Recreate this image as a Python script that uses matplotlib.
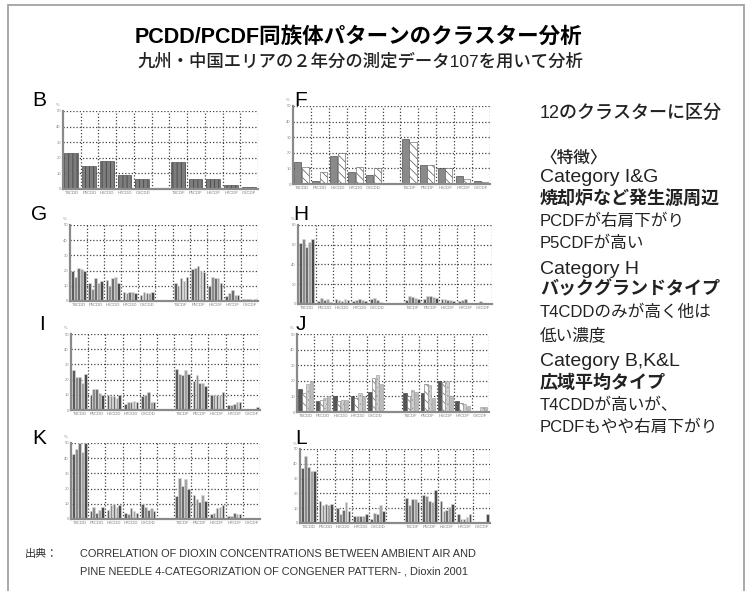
import matplotlib.pyplot as plt
import numpy as np
from matplotlib.patches import Rectangle

plt.rcParams['font.family'] = ['Liberation Sans', 'Noto Sans CJK JP', 'DejaVu Sans']
plt.rcParams['hatch.linewidth'] = 0.5

W, H = 750, 591

# gruppi di congeneri (slot 5 lasciato vuoto tra PCDD e PCDF)
congeneri = ["T4CDD", "P5CDD", "H6CDD", "H7CDD", "O8CDD",
             "T4CDF", "P5CDF", "H6CDF", "H7CDF", "O8CDF"]
slot = [0, 1, 2, 3, 4, 6, 7, 8, 9, 10]

# valori letti a occhio dal grafico (%), una lista per gruppo
B_vals = [[23], [15], [18], [9], [6.5], [17], [6.5], [6.5], [2.5], [1]]
F_vals = [[14, 11], [1.7, 7.5], [18, 20], [7.5, 11], [5.5, 10],
          [29, 27], [12.5, 12.5], [10, 10.5], [5, 3], [1.7, 1.2]]
G_vals = [[20, 16, 22, 21, 20], [12, 8, 15, 12, 13], [14, 10, 15, 16, 12],
          [6, 5, 6, 6, 5], [4, 6, 5, 5, 6], [12, 10, 15, 13, 16],
          [21, 22, 23, 20, 19], [10, 16, 15, 15, 12], [3, 5, 7, 4, 4],
          [1, 1, 1.5, 0.5, 1]]
H_vals = [[62, 66, 58, 63, 66], [3, 6, 4, 5, 2], [5, 4, 3, 5, 4],
          [3, 4, 5, 4, 3], [5, 6, 4, 2, 1], [4, 8, 7, 6, 5],
          [5, 8, 8, 7, 6], [5, 5, 4, 4, 3], [3, 4, 5, 1, 1],
          [0.5, 3, 0.5, 0.5, 0.5]]
I_vals = [[26, 22, 22, 17.5, 24], [10, 14, 14, 11, 10], [10, 9, 9, 8, 10],
          [4, 5, 5, 6, 5], [9, 10, 12, 5, 5], [27, 24, 23, 26, 24],
          [19, 23, 18, 18, 16], [10, 10, 10, 10, 12], [3, 3, 4, 5, 5],
          [0.5, 0.5, 0.5, 0.5, 2]]
J_vals = [[15, 12, 18, 20], [7, 8, 9, 10], [10, 7, 8, 8], [10, 9, 12, 10],
          [13, 22, 24, 18], [12, 10, 14, 13], [12, 18, 17, 9],
          [20, 19, 20, 10], [7, 6, 5, 4], [0, 0, 3.5, 3]]
K_vals = [[43, 46, 50, 44, 50], [5, 8, 4, 6, 8], [6, 9, 10, 8, 9],
          [4, 3, 7, 5, 4], [10, 8, 6, 7, 5], [15, 27, 22, 26, 20],
          [16, 13, 11, 16, 12], [3, 4, 7, 8, 9], [2, 2, 4, 3, 3],
          [0.3, 0.3, 0.3, 0.3, 0.3]]
L_vals = [[37, 45, 38, 35, 35], [15, 12, 13, 12, 13], [10, 6, 9, 14, 8],
          [5, 5, 5, 5, 6], [3, 7, 6, 12, 8], [17, 12, 16, 16, 14],
          [19, 18, 15, 14, 22], [15, 8, 9, 11, 13], [6, 3, 3, 4, 6],
          [1, 1, 1, 0.5, 6]]

# posizione dei pannelli in pixel: (sinistra, alto, destra, basso)
pannelli = {
    "B": (B_vals, 50, 10, (63, 111, 258, 189), "pieno"),
    "F": (F_vals, 50, 10, (293, 106, 490, 184), "F"),
    "G": (G_vals, 50, 10, (70, 225, 258, 301), "misto"),
    "H": (H_vals, 80, 20, (298, 225, 492, 304), "misto"),
    "I": (I_vals, 50, 10, (71, 334, 260, 410), "misto"),
    "J": (J_vals, 50, 10, (297, 334, 489, 412), "J"),
    "K": (K_vals, 50, 10, (71, 443, 260, 519), "misto"),
    "L": (L_vals, 50, 10, (300, 449, 490, 523), "misto"),
}
lettere = {"B": (39, 100), "F": (301, 100), "G": (39, 214), "H": (301, 214),
           "I": (42, 325), "J": (301, 325), "K": (39, 438), "L": (301, 438)}

grigi = ['#5a5a5a', '#8c8c8c', '#6e6e6e', '#a3a3a3', '#4a4a4a']


def stile(tipo, j):
    if tipo == "pieno":
        return dict(color='#7d7d7d', edgecolor='#3a3a3a', hatch='||||')
    if tipo == "F":
        if j % 2 == 0:
            return dict(color='#8a8a8a', edgecolor='#333333')
        return dict(color='white', edgecolor='#555555', hatch='\\\\\\\\')
    if tipo == "J":
        s = [dict(color='#555555', edgecolor='#333333'),
             dict(color='white', edgecolor='#666666', hatch='\\\\\\\\'),
             dict(color='#d0d0d0', edgecolor='#999999', hatch='....'),
             dict(color='#bbbbbb', edgecolor='#999999')]
        return s[j % 4]
    return dict(color=grigi[j % len(grigi)], edgecolor='#dddddd')


fig = plt.figure(figsize=(W / 100, H / 100), dpi=100)

# cornice grigia della slide
fig.add_artist(Rectangle((8 / W, -0.05), 736 / W, 1 - 5 / H + 0.05,
                         transform=fig.transFigure, fill=False,
                         edgecolor='#9a9a9a', linewidth=1.2))

for nome, (vals, ymax, passo, (x0, y0, x1, y1), tipo) in pannelli.items():
    ax = fig.add_axes([x0 / W, 1 - y1 / H, (x1 - x0) / W, (y1 - y0) / H])
    for g, gruppo in enumerate(vals):
        n = len(gruppo)
        w = 0.85 / n
        for j, v in enumerate(gruppo):
            ax.bar(slot[g] + 0.08 + j * w, v, width=w * 0.92, align='edge',
                   linewidth=0.4, **stile(tipo, j))
    ax.set_xlim(0, 11)
    ax.set_ylim(0, ymax)
    ax.set_yticks(np.arange(0, ymax + 1, passo))
    ax.set_yticklabels([str(t) for t in np.arange(0, ymax + 1, passo)],
                       fontsize=3, color='#888888')
    ax.set_xticks(np.array(slot) + 0.5)
    ax.set_xticklabels(congeneri, fontsize=3, color='#777777')
    ax.set_xticks(np.arange(1, 12), minor=True)
    ax.tick_params(axis='both', which='both', length=0, pad=1.5)
    ax.set_axisbelow(True)
    ax.grid(True, which='major', axis='y', color='#444444',
            linestyle=(0, (1, 1.6)), linewidth=0.9)
    ax.grid(True, which='minor', axis='x', color='#444444',
            linestyle=(0, (1, 1.6)), linewidth=0.9)
    for s in ['top', 'right']:
        ax.spines[s].set_visible(False)
    for s in ['left', 'bottom']:
        ax.spines[s].set_color('#8a8a8a')
        ax.spines[s].set_linewidth(1.6)
    ax.text(-0.02, 1.06, "%", transform=ax.transAxes, fontsize=3,
            color='#888888', ha='right')
    ax.patch.set_alpha(0)
    lx, ly = lettere[nome]
    fig.text(lx / W, 1 - ly / H, nome, fontsize=15, ha='center', va='center')

# titolo
fig.text(358 / W, 1 - 37 / H, "PCDD/PCDF同族体パターンのクラスター分析",
         fontsize=15.5, fontweight='bold', ha='center', va='center')
fig.text(360 / W, 1 - 62 / H, "九州・中国エリアの２年分の測定データ107を用いて分析",
         fontsize=12.5, fontweight='medium', ha='center', va='center',
         color='#222222')

# testo a destra
righe = [
    ("12のクラスターに区分", 113, 13, 'medium'),
    ("〈特徴〉", 158, 12, 'medium'),
    ("Category I&G", 178, 14, 'normal'),
    ("焼却炉など発生源周辺", 199, 13, 'bold'),
    ("PCDFが右肩下がり", 221, 12, 'normal'),
    ("P5CDFが高い", 243, 12, 'normal'),
    ("Category H", 270, 14, 'normal'),
    ("バックグランドタイプ", 290, 13, 'bold'),
    ("T4CDDのみが高く他は", 312, 12, 'normal'),
    ("低い濃度", 335, 12, 'normal'),
    ("Category B,K&L", 362, 14, 'normal'),
    ("広域平均タイプ", 383, 13, 'bold'),
    ("T4CDDが高いが、", 405, 12, 'normal'),
    ("PCDFもやや右肩下がり", 427, 12, 'normal'),
]
for testo, y, fs, peso in righe:
    fig.text(540 / W, 1 - y / H, testo, fontsize=fs, fontweight=peso,
             va='center', ha='left', color='#222222')

# fonte
fig.text(25 / W, 1 - 554 / H, "出典：", fontsize=8, va='center', color='#333333')
fig.text(80 / W, 1 - 554 / H,
         "CORRELATION OF DIOXIN CONCENTRATIONS BETWEEN AMBIENT AIR AND",
         fontsize=7.9, va='center', color='#333333')
fig.text(80 / W, 1 - 571 / H,
         "PINE NEEDLE 4-CATEGORIZATION OF CONGENER PATTERN- , Dioxin 2001",
         fontsize=7.9, va='center', color='#333333')

fig.savefig("out.png", dpi=100)
